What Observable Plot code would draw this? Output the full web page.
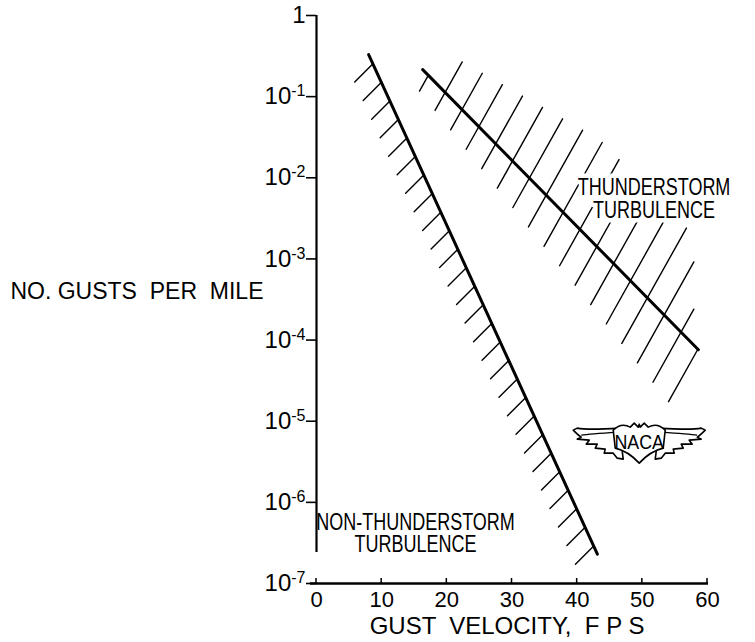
<!DOCTYPE html>
<html><head><meta charset="utf-8">
<script src="https://cdn.jsdelivr.net/npm/d3@7"></script>
<script src="https://cdn.jsdelivr.net/npm/@observablehq/plot@0.6"></script>
<style>body{margin:0;background:#fff}</style>
</head><body><div id="chart"></div>
<script>
// ---- data ----
const xTicks = [0, 10, 20, 30, 40, 50, 60];
const yTicks = [1e-7, 1e-6, 1e-5, 1e-4, 1e-3, 1e-2, 1e-1, 1];
const yTickLabels = ["10^-7", "10^-6", "10^-5", "10^-4", "10^-3", "10^-2", "10^-1", "1"];

const nonThunderVelocity = [8.0, 43.1];
const nonThunderGusts = [0.33, 2.3e-7];
const thunderVelocity = [16.3, 58.6];
const thunderGusts = [0.215, 7.6e-5];

const labelText = ["THUNDERSTORM\nTURBULENCE", "NON-THUNDERSTORM\nTURBULENCE"];
const labelVelocity = [51.8, 15.2];
const labelGusts = [5.4e-3, 4.1e-7];

const xTitle = "GUST  VELOCITY,  F P S";
const yTitle = "NO. GUSTS  PER  MILE";
const yTitleAt = 4e-4;
const logoVelocity = 49.6, logoGusts = 5.6e-6;

const nonThunder = nonThunderVelocity.map((v, i) => ({v, n: nonThunderGusts[i]}));
const thunder = thunderVelocity.map((v, i) => ({v, n: thunderGusts[i]}));
const labels = labelText.map((t, i) => ({t, v: labelVelocity[i], n: labelGusts[i]}));

// hatching + decorations drawn through the plot's scales
function hatching(index, scales) {
  const {x, y} = scales;
  const g = d3.create("svg:g");
  const h = g.append("g").attr("stroke", "black").attr("stroke-width", 1.4).attr("fill", "none").attr("stroke-linecap", "round");
  // non-thunderstorm: short hatches on the lower-left side
  const a0 = [x(nonThunder[0].v), y(nonThunder[0].n)], a1 = [x(nonThunder[1].v), y(nonThunder[1].n)];
  const nA = 27;
  for (let k = 0; k < nA; k++) {
    const t = 0.02 + k * (0.965 / (nA - 1));
    const cx = a0[0] + t * (a1[0] - a0[0]), cy = a0[1] + t * (a1[1] - a0[1]);
    h.append("line").attr("x1", cx).attr("y1", cy).attr("x2", cx - 18).attr("y2", cy + 18);
  }
  // thunderstorm: long hatches crossing the line
  const b0 = [x(thunder[0].v), y(thunder[0].n)], b1 = [x(thunder[1].v), y(thunder[1].n)];
  const ux = 0.4886, uy = -0.8726;
  const nB = 17;
  for (let k = 0; k < nB; k++) {
    const t = 0.022 + k * ((1 - 0.022) / (nB - 1));
    const cx = b0[0] + t * (b1[0] - b0[0]), cy = b0[1] + t * (b1[1] - b0[1]);
    const above = k === 0 ? 0 : Math.min(35 + 107.6 * (t - 0.083), 80, Math.max(0, (b1[0] - 4 - cx) / ux));
    const below = 18 + 43 * (t - 0.022);
    h.append("line")
      .attr("x1", cx + above * ux).attr("y1", cy + above * uy)
      .attr("x2", cx - below * ux).attr("y2", cy - below * uy);
  }
  // x tick stubs
  for (const v of xTicks) {
    g.append("line").attr("x1", x(v)).attr("x2", x(v)).attr("y1", y(1e-7)).attr("y2", y(1e-7) - 5)
      .attr("stroke", "black").attr("stroke-width", 1.5);
  }
  return g.node();
}

function emblem(index, scales) {
  const {x, y} = scales;
  const L = d3.create("svg:g").attr("transform", `translate(${x(logoVelocity)},${y(logoGusts)})`)
    .attr("stroke", "black").attr("stroke-width", 1.6).attr("fill", "white").attr("stroke-linejoin", "round");
  const wing = "M-20,-13 C-36,-12 -52,-11 -62,-13 L-66,-11 C-62,-7 -60,-5 -58,-4 L-62,-2 L-50,-1 L-53,3 L-42,3 L-44,7 L-34,8 L-35,12 L-26,12 L-22,17 L-16,18 Z";
  const wingInner = "M-22,-9 C-36,-8 -50,-7 -58,-6";
  L.append("path").attr("d", wing);
  L.append("path").attr("d", wingInner).attr("fill", "none").attr("stroke-width", 1.1);
  L.append("path").attr("d", wing).attr("transform", "scale(-1,1)");
  L.append("path").attr("d", wingInner).attr("fill", "none").attr("stroke-width", 1.1).attr("transform", "scale(-1,1)");
  L.append("path").attr("d", "M-26,-11 Q-18,-19 -9,-14 L-5,-18 L-1,-14 L0,-17 L1,-14 L5,-18 L9,-14 Q18,-19 26,-11 L24,7 Q11,10 0,22 Q-11,10 -24,7 Z");
  L.append("text").attr("text-anchor", "middle").attr("y", 0).attr("dy", "0.36em")
    .attr("stroke", "none").attr("fill", "black").attr("font-family", "'Liberation Sans', sans-serif")
    .attr("font-size", 21).attr("transform", "scale(0.85,1)").text("NACA");
  return L.node();
}

const plot = Plot.plot({
  width: 755,
  height: 642,
  marginLeft: 316,
  marginRight: 48,
  marginTop: 15,
  marginBottom: 59,
  style: {fontFamily: "'Liberation Sans', Arial, sans-serif", background: "white", color: "black"},
  x: {domain: [0, 60]},
  y: {type: "log", domain: [1e-7, 1]},
  marks: [
    hatching,
    Plot.text(labels, {x: "v", y: "n", text: "t", fontSize: 24, lineHeight: 0.95,
      fill: "black", stroke: "white", strokeWidth: 9, textAnchor: "middle", lineAnchor: "middle"}),
    emblem,
    Plot.ruleX([0], {insetBottom: 31, strokeWidth: 2.2}),
    Plot.ruleY([1e-7], {insetLeft: -6, insetRight: -1, strokeWidth: 2.4}),
    Plot.axisY(yTicks, {tickSize: 10, tickPadding: 1, strokeWidth: 1.6, fontSize: 24,
      tickFormat: (d) => yTickLabels[yTicks.indexOf(d)], label: null}),
    Plot.axisX(xTicks, {tickSize: 0, tickPadding: 8, fontSize: 22, label: null}),
    Plot.line(nonThunder, {x: "v", y: "n", strokeWidth: 3, stroke: "black"}),
    Plot.line(thunder, {x: "v", y: "n", strokeWidth: 3, stroke: "black"}),
    Plot.text([xTitle], {frameAnchor: "bottom", dx: -5, dy: 33, lineAnchor: "top", fontSize: 24, fill: "black"}),
    Plot.text([yTitle], {frameAnchor: "left", y: [yTitleAt], dx: -53, textAnchor: "end", fontSize: 23, fill: "black"})
  ]
});

// condensed lettering for the two annotations
d3.select(plot).selectAll("text").each(function() {
  if (!/TURBULENCE/.test(this.textContent)) return;
  const tr = this.getAttribute("transform") || "";
  this.setAttribute("transform", tr + " scale(0.75,1)");
});

// superscript exponents on the y tick labels
d3.select(plot).selectAll('g[aria-label="y-axis tick label"] text').each(function() {
  const s = this.textContent;
  const m = s.match(/^10\^(.+)$/);
  if (m) {
    const el = d3.select(this);
    el.text("10");
    el.append("tspan").attr("dy", "-8").attr("font-size", 16).text(m[1]);
  }
});

document.getElementById("chart").appendChild(plot);
</script>
</body></html>
